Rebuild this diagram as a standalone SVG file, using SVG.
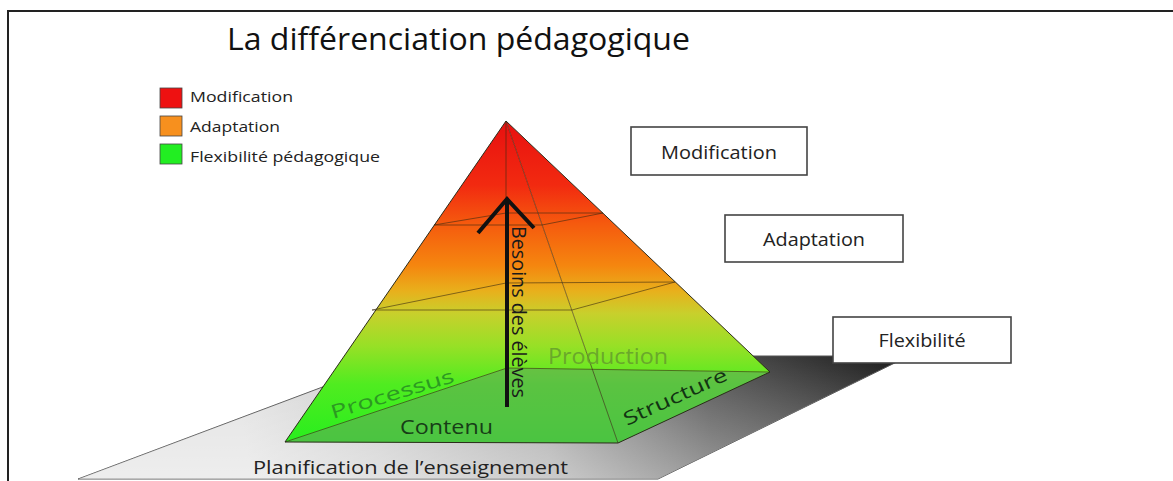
<svg xmlns="http://www.w3.org/2000/svg" width="1173" height="481" viewBox="0 0 1173 481">
<style>
  text { font-family: "Open Sans", "Noto Sans", "Liberation Sans", sans-serif; }
  .frame { stroke: #222; stroke-width: 2; fill: none; }
  .box { fill: #fff; stroke: #444; stroke-width: 1.6; }
  .boxtxt { font-size: 18px; fill: #222; text-anchor: middle; }
  .leg { font-size: 15px; fill: #222; }
  .sw { stroke: #444; stroke-width: 0.8; }
  .edge { fill: none; stroke: #2b2b1a; stroke-width: 1; }
  .inner { fill: none; stroke: #3a2a10; stroke-width: 0.8; stroke-opacity: 0.75; }
</style>
<defs>
  <linearGradient id="pyr" gradientUnits="userSpaceOnUse" x1="0" y1="121" x2="0" y2="442">
    <stop offset="0" stop-color="#e81010"/>
    <stop offset="0.2" stop-color="#f22a10"/>
    <stop offset="0.32" stop-color="#f55a0e"/>
    <stop offset="0.45" stop-color="#f5860f"/>
    <stop offset="0.53" stop-color="#e8b01c"/>
    <stop offset="0.6" stop-color="#c8d02c"/>
    <stop offset="0.7" stop-color="#98e026"/>
    <stop offset="0.82" stop-color="#50ec20"/>
    <stop offset="1" stop-color="#28ee1e"/>
  </linearGradient>
  <linearGradient id="slab" gradientUnits="userSpaceOnUse" x1="900" y1="360" x2="250" y2="470">
    <stop offset="0" stop-color="#1a1a1a"/>
    <stop offset="0.3" stop-color="#555"/>
    <stop offset="0.55" stop-color="#a8a8a8"/>
    <stop offset="0.8" stop-color="#cdcdcd"/>
    <stop offset="1" stop-color="#e2e2e2"/>
  </linearGradient>
  <linearGradient id="slabv" gradientUnits="userSpaceOnUse" x1="0" y1="356" x2="0" y2="479">
    <stop offset="0" stop-color="#fff" stop-opacity="0"/>
    <stop offset="1" stop-color="#fff" stop-opacity="0.4"/>
  </linearGradient>
</defs>

<rect x="0" y="0" width="1173" height="481" fill="#fff"/>
<path class="frame" d="M8 481 V11 H1173"/>

<g id="title">
  <text x="227" y="50" font-size="31" fill="#111" textLength="463" lengthAdjust="spacingAndGlyphs">La différenciation pédagogique</text>
</g>

<g id="legend">
  <rect class="sw" x="160" y="88" width="22" height="20" fill="#ee1111"/>
  <rect class="sw" x="160" y="116" width="22" height="20" fill="#f7901e"/>
  <rect class="sw" x="160" y="144" width="22" height="20" fill="#22ee22"/>
  <text class="leg" x="190" y="102" textLength="103" lengthAdjust="spacingAndGlyphs">Modification</text>
  <text class="leg" x="190" y="132" textLength="90" lengthAdjust="spacingAndGlyphs">Adaptation</text>
  <text class="leg" x="190" y="162" textLength="190" lengthAdjust="spacingAndGlyphs">Flexibilité pédagogique</text>
</g>

<g id="planification">
  <polygon points="78,479 405,356 909,356 658,479" fill="url(#slab)" stroke="#555" stroke-width="1"/>
  <polygon points="78,479 405,356 909,356 658,479" fill="url(#slabv)"/>
  <text x="253" y="474" font-size="19" fill="#222" textLength="315" lengthAdjust="spacingAndGlyphs">Planification de l’enseignement</text>
</g>

<g id="pyramide">
  <polygon points="506,121 285,442 618,443" fill="url(#pyr)"/>
  <polygon points="506,121 618,443 770,372" fill="url(#pyr)"/>
  <polygon points="285,442 618,443 770,372 507,368" fill="#62a858" fill-opacity="0.6"/>
  <polyline class="inner" points="506,121 618,443"/>
  <polyline class="inner" points="506,121 506,368"/>
  <polyline class="inner" points="285,442 507,368 770,372"/>
  <polyline class="inner" points="434,225 542,225 603,213"/>
  <polyline class="inner" points="434,225 506,213 603,213"/>
  <polyline class="inner" points="372,310 572,310 675,282"/>
  <polyline class="inner" points="372,310 506,283 675,282"/>
  <polygon class="edge" points="506,121 285,442 618,443 770,372"/>
  <text font-size="19" fill="#2c9a22" textLength="128" lengthAdjust="spacingAndGlyphs" transform="translate(333,419) rotate(-17)">Processus</text>
  <text x="548" y="364" font-size="21" fill="#66a02c" fill-opacity="0.9" textLength="120" lengthAdjust="spacingAndGlyphs">Production</text>
  <text x="400" y="434" font-size="20" fill="#173d17" textLength="93" lengthAdjust="spacingAndGlyphs">Contenu</text>
  <text font-size="19" fill="#123312" textLength="112" lengthAdjust="spacingAndGlyphs" transform="translate(627,426) rotate(-24.5)">Structure</text>
</g>

<g id="connectors">
  <line x1="507" y1="200" x2="507" y2="407" stroke="#111" stroke-width="4"/>
  <polyline points="478,233 507,199 534,228" fill="none" stroke="#111" stroke-width="4"/>
  <text font-size="20" fill="#1a1a1a" textLength="172" lengthAdjust="spacingAndGlyphs" transform="translate(512,226) rotate(90)">Besoins des élèves</text>
</g>

<g id="box-modification">
  <rect class="box" x="631" y="127" width="176" height="48"/>
  <text class="boxtxt" x="719" y="159" textLength="116" lengthAdjust="spacingAndGlyphs">Modification</text>
</g>
<g id="box-adaptation">
  <rect class="box" x="725" y="215" width="178" height="47"/>
  <text class="boxtxt" x="814" y="246" textLength="102" lengthAdjust="spacingAndGlyphs">Adaptation</text>
</g>
<g id="box-flexibilite">
  <rect class="box" x="833" y="317" width="178" height="46"/>
  <text class="boxtxt" x="922" y="347" textLength="87" lengthAdjust="spacingAndGlyphs">Flexibilité</text>
</g>
</svg>
